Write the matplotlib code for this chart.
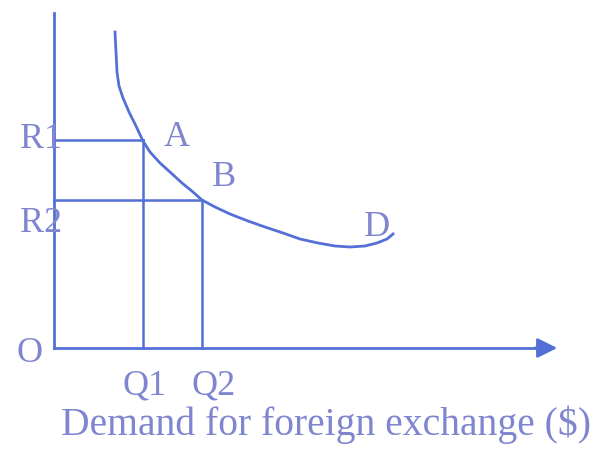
import matplotlib.pyplot as plt

# demand curve for foreign exchange (pixel-like units, y down)
curve_x = [115, 116, 117, 119, 123, 129, 136, 143, 150, 160, 170, 182, 193, 202,
           215, 230, 248, 265, 283, 300, 318, 335, 350, 365, 377, 387, 393]
curve_y = [32, 52, 72, 86, 98, 112, 126, 141, 152, 163, 172, 183, 192, 200,
           207, 214, 221, 227, 233, 239, 243, 246, 247, 246, 243, 239, 234]

# rates and quantities
rate_names = ["R1", "R2"]
rate_y = [140, 200]
qty_names = ["Q1", "Q2"]
qty_x = [143, 202]
point_names = ["A", "B"]

origin = (54, 348)
x_end = 560
y_top = 13

line_c = "#5470d6"
text_c = "#7f86cf"

fig = plt.figure(figsize=(5.97, 4.70), dpi=100)
ax = fig.add_axes([0, 0, 1, 1])
ax.set_xlim(0, 597)
ax.set_ylim(470, 0)
ax.axis("off")

# axes
ax.plot([origin[0], origin[0]], [origin[1], y_top], color=line_c, lw=2)
ax.plot([origin[0], x_end - 20], [origin[1], origin[1]], color=line_c, lw=2)
ax.annotate("", xy=(x_end, origin[1]), xytext=(x_end - 28, origin[1]),
            arrowprops=dict(arrowstyle="-|>", color=line_c, lw=2,
                            mutation_scale=30))

# guide lines
for ry, qx in zip(rate_y, qty_x):
    ax.plot([origin[0], qx], [ry, ry], color=line_c, lw=1.8)
    ax.plot([qx, qx], [ry, origin[1]], color=line_c, lw=1.8)

# curve
ax.plot(curve_x, curve_y, color=line_c, lw=2)

fs = 26
ser = "Liberation Serif"
for name, ry in zip(rate_names, rate_y):
    ax.text(62, ry + (0 if name == "R1" else 24), name, color=text_c,
            fontsize=fs, ha="right", va="center", family=ser)
ax.text(43, 354, "O", color=text_c, fontsize=fs, ha="right", va="center",
        family=ser)
for name, qx, off in zip(qty_names, qty_x, [2, 12]):
    ax.text(qx + off, 386, name, color=text_c, fontsize=fs, ha="center",
            va="center", family=ser)
for name, qx, ry, dx, dy in zip(point_names, qty_x, rate_y, [34, 22], [-2, -22]):
    ax.text(qx + dx, ry + dy, name, color=text_c, fontsize=fs, ha="center",
            va="center", family=ser)
ax.text(377, 228, "D", color=text_c, fontsize=fs, ha="center", va="center",
        family=ser)
ax.text(326, 425, "Demand for foreign exchange ($)", color=text_c,
        fontsize=28.5, ha="center", va="center", family=ser)

plt.savefig("out.png", dpi=100)
